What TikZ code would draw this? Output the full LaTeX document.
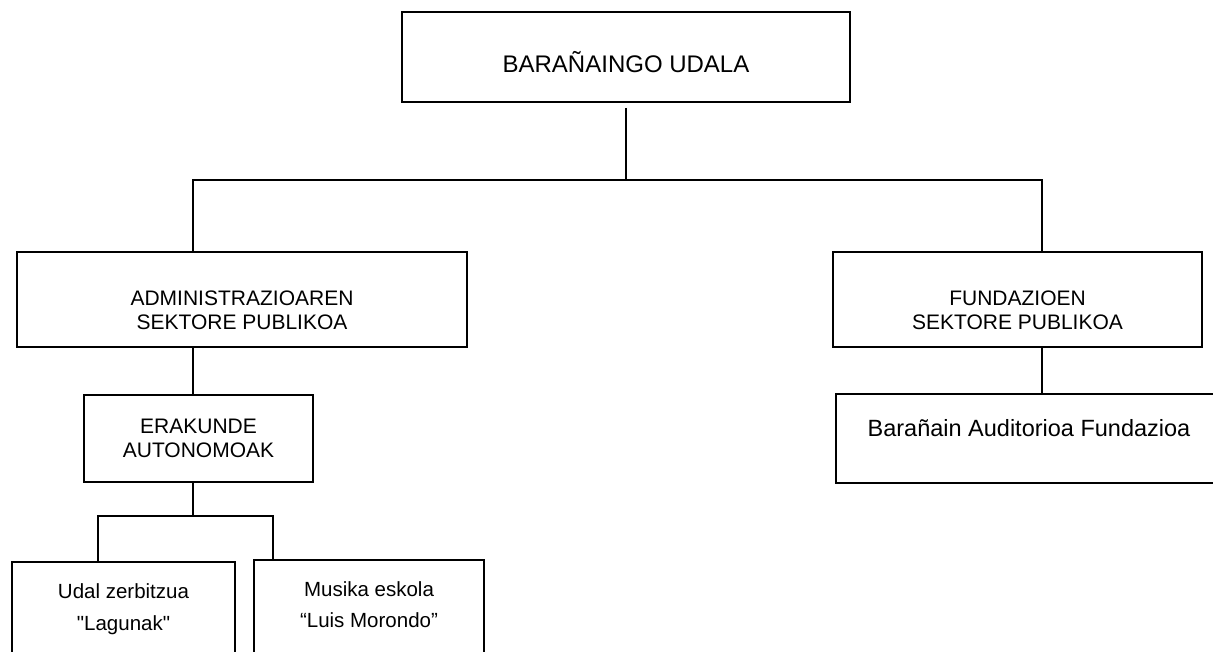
\documentclass[tikz,border=0pt]{standalone}
\usepackage{fontspec}
\setmainfont{Liberation Sans}
\begin{document}
\begin{tikzpicture}[x=1pt, y=-1pt, line width=1.5pt,
		box/.style = {draw, rectangle, align=center, font=\fontsize{21}{24}\selectfont}]
		\clip (0,0) rectangle (1213,651);
		\node[box, minimum width=448pt, minimum height=90pt, font=\fontsize{24}{26}\selectfont, text height=31pt, text depth=0pt] (udala) at (626,57) {BARAÑAINGO UDALA};
		\node[box, minimum width=450pt, minimum height=95pt] (admin) at (242,299.5) {\rule{0pt}{37pt}ADMINISTRAZIOAREN\\SEKTORE PUBLIKOA};
		\node[box, minimum width=369pt, minimum height=95pt] (fund) at (1017.5,299.5) {\rule{0pt}{37pt}FUNDAZIOEN\\SEKTORE PUBLIKOA};
		\node[box, minimum width=229pt, minimum height=87pt] (erakunde) at (198.5,438.5) {ERAKUNDE\\AUTONOMOAK};
		\node[box, minimum width=223pt, minimum height=96pt, font=\fontsize{20.5}{32}\selectfont] (udal) at (123.5,610) {Udal zerbitzua\\\textquotedbl Lagunak\textquotedbl\rule[-6pt]{0pt}{0pt}};
		\node[box, minimum width=230pt, minimum height=100pt, font=\fontsize{20.5}{31}\selectfont] (musika) at (369,610) {Musika eskola\\“Luis Morondo”\rule[-10pt]{0pt}{0pt}};
		\node[box, minimum width=386pt, minimum height=89pt, font=\fontsize{23.5}{26}\selectfont, text depth=22pt] (auditorio) at (1029,438.5) {Barañain Auditorioa Fundazioa};
		\coordinate (j1) at (626,180);
		\coordinate (laxis) at (193,180);
		\coordinate (raxis) at (1042,180);
		\coordinate (j2) at (193,516);
		\coordinate (udaxis) at (98,516);
		\coordinate (muaxis) at (273,516);
		\draw[line width=2.8pt] ([yshift=-5pt]udala.south) -- (j1);
		\draw (admin.north -| laxis) |- (j1) -| (fund.north -| raxis);
		\draw (admin.south -| laxis) -- (erakunde.north -| laxis);
		\draw (erakunde.south -| laxis) -- (j2);
		\draw (udal.north -| udaxis) |- (j2) -| (musika.north -| muaxis);
		\draw (fund.south -| raxis) -- (auditorio.north -| raxis);
	\end{tikzpicture}
\end{document}
